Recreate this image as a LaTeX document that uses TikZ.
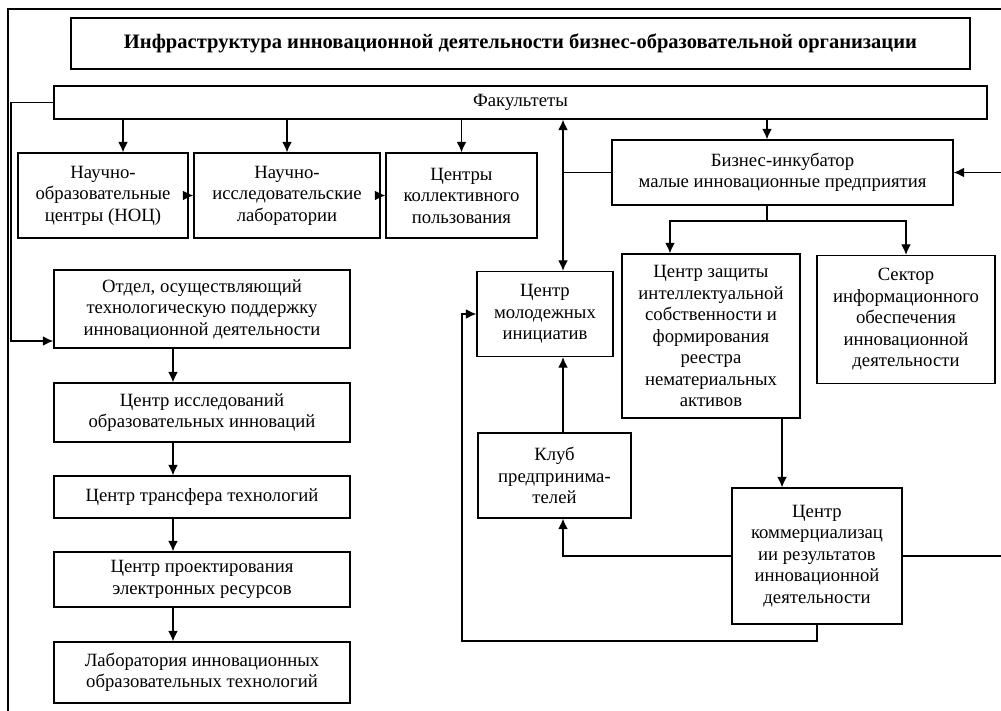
\documentclass[tikz,border=0pt]{standalone}
\usepackage{fontspec}
\setmainfont{Liberation Serif}
\usetikzlibrary{arrows.meta}

\begin{document}
\begin{tikzpicture}[x=0.025cm, y=-0.025cm,
>={Latex[length=7.5pt,width=7pt]}, line width=0.9pt,
every node/.style={draw, line width=0.9pt, rectangle, align=center, inner sep=2pt,
  font=\fontsize{13.3}{15.3}\selectfont}]

\useasboundingbox (0,0) rectangle (1001,711);

% outer frame
\draw[line width=1.6pt] (1001,9) -- (8,9) -- (8,711);

\node (title) at (520.5,43.5) [minimum width=22.475cm, minimum height=1.275cm,
  font=\fontsize{14.6}{16}\selectfont\bfseries]
  {Инфраструктура инновационной деятельности бизнес-образовательной организации};
\node (fac) at (520.5,102.5) [minimum width=23.325cm, minimum height=0.825cm] {Факультеты};

\node (noc) at (103,195.5) [minimum width=4.25cm, minimum height=2.125cm]
  {Научно-\\образовательные\\центры (НОЦ)};
\node (nil) at (287,195.5) [minimum width=4.65cm, minimum height=2.125cm]
  {Научно-\\исследовательские\\лаборатории};
\node (ckp) at (461.5,195.5) [minimum width=3.775cm, minimum height=2.125cm]
  {Центры\\коллективного\\пользования};

\node (otdel) at (202,309) [minimum width=7.4cm, minimum height=1.95cm]
  {Отдел, осуществляющий\\технологическую поддержку\\инновационной деятельности};
\node (issl) at (202,412.5) [minimum width=7.4cm, minimum height=1.475cm]
  {Центр исследований\\образовательных инноваций};
\node (transfer) at (202,497) [minimum width=7.4cm, minimum height=1.05cm]
  {Центр трансфера технологий};
\node (proekt) at (202,579.5) [minimum width=7.4cm, minimum height=1.375cm]
  {Центр проектирования\\электронных ресурсов};
\node (lab) at (202,672.5) [minimum width=7.4cm, minimum height=1.525cm]
  {Лаборатория инновационных\\образовательных технологий};

\node (incub) at (782.5,172.5) [minimum width=8.525cm, minimum height=1.625cm]
  {Бизнес-инкубатор\\малые инновационные предприятия};
\node (molod) at (545,314) [minimum width=3.4cm, minimum height=2.125cm]
  {Центр\\молодежных\\инициатив};
\node (zash) at (711,336) [minimum width=4.45cm, minimum height=4.1cm]
  {Центр защиты\\интеллектуальной\\собственности и\\формирования\\реестра\\нематериальных\\активов};
\node (sector) at (906,319.5) [minimum width=4.45cm, minimum height=3.2cm]
  {Сектор\\информационного\\обеспечения\\инновационной\\деятельности};
\node (klub) at (554.5,475.5) [minimum width=3.825cm, minimum height=2.125cm]
  {Клуб\\предпринима-\\телей};
\node (comm) at (817,556) [minimum width=4.25cm, minimum height=3.4cm]
  {Центр\\коммерциализац\\ии результатов\\инновационной\\деятельности};

\coordinate (leftbus) at (11,0);
\coordinate (midbus) at (563,0);
\coordinate (incx) at (767,0);
\coordinate (split) at (767,221);
\coordinate (loopc) at (462,641);
\coordinate (rbus) at (1006,0);

% faculties
\draw[->] ([xshift=0.5cm]noc.north |- fac.south) -- ([xshift=0.5cm]noc.north);
\draw[->] (nil.north |- fac.south) -- (nil.north);
\draw[->] (ckp.north |- fac.south) -- (ckp.north);
\draw[->] (noc) -- (nil);
\draw[->] (nil) -- (ckp);
\draw[->] (fac.west) -- (fac.west -| leftbus) |- ([yshift=-0.8cm]otdel.west);

\foreach \a/\b in {otdel/issl, issl/transfer, transfer/proekt, proekt/lab}
  \draw[->] ([xshift=-0.725cm]\a.south) -- ([xshift=-0.725cm]\b.north);

% right part
\draw[<->] (fac.south -| midbus) -- (molod.north -| midbus);
\draw (midbus |- incub.west) -- (incub.west);
\draw[->] (fac.south -| incx) -- (incub.north -| incx);
\draw (incub.south -| split) -- (split);
\draw[->] (split) -| ([xshift=-1.025cm]zash.north);
\draw[->] (split) -| (sector.north);
\draw[->] ([xshift=1.775cm]zash.south) -- ([xshift=1.775cm]zash.south |- comm.north);
\draw[->] (klub.north -| midbus) -- (molod.south -| midbus);
\draw[->] (comm.west) -| (klub.south -| midbus);
\draw[->] (comm.south) |- (loopc) |- (molod.west);
\draw[->] (comm.east) -- (comm.east -| rbus) |- (incub.east);

\end{tikzpicture}
\end{document}
